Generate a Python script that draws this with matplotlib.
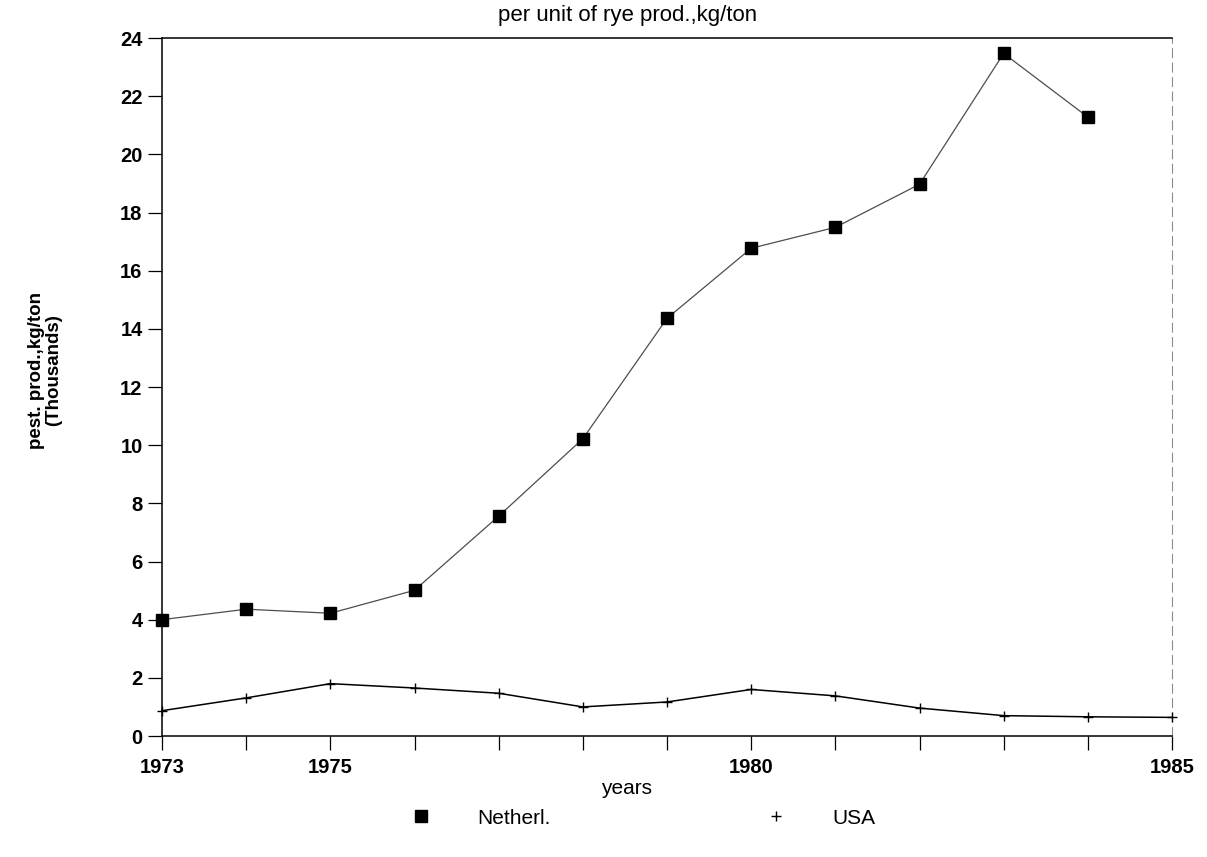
import matplotlib
matplotlib.use("Agg")
import matplotlib.pyplot as plt
from matplotlib.lines import Line2D

plt.rcParams["font.family"] = ["Liberation Sans", "DejaVu Sans"]

years = [1973, 1974, 1975, 1976, 1977, 1978, 1979, 1980, 1981, 1982, 1983, 1984, 1985]
netherl = [4.0, 4.36, 4.22, 5.01, 7.56, 10.22, 14.36, 16.77, 17.49, 18.97, 23.47, 21.28]
usa = [0.87, 1.31, 1.80, 1.65, 1.47, 1.00, 1.17, 1.60, 1.38, 0.96, 0.70, 0.66, 0.64]
xtick_labels = {1973: "1973", 1975: "1975", 1980: "1980", 1985: "1985"}
yticks = list(range(0, 25, 2))

fig = plt.figure(figsize=(12.07, 8.57), dpi=100)
ax = fig.add_axes([162 / 1207, 1 - 736 / 857, (1172 - 162) / 1207, (736 - 38) / 857])

ax.plot(years[:len(netherl)], netherl, color="0.3", lw=0.9, marker="s", ms=9,
        mfc="black", mec="black", clip_on=False, zorder=3)
ax.plot(years, usa, color="black", lw=1.1, marker="+", ms=7, mew=1.0,
        clip_on=False, zorder=3)

ax.set_xlim(1973, 1985)
ax.set_ylim(0, 24)
ax.set_xticks(years)
ax.set_xticklabels([xtick_labels.get(y, "") for y in years])
ax.set_yticks(yticks)
ax.tick_params(axis="both", direction="out", length=10, width=0.9, labelsize=14.5)
ax.tick_params(axis="x", pad=6)
ax.tick_params(axis="y", pad=4)
for lab in ax.get_xticklabels() + ax.get_yticklabels():
    lab.set_fontweight("bold")

for s in ["left", "bottom", "top"]:
    ax.spines[s].set_color("black")
    ax.spines[s].set_linewidth(1.1)
ax.spines["right"].set_color("0.55")
ax.spines["right"].set_linewidth(0.8)
ax.spines["right"].set_linestyle((0, (8, 5)))

fig.text(628 / 1207, 1 - 16 / 857, "per unit of rye prod.,kg/ton", ha="center",
         va="center", fontsize=16)
fig.text(627 / 1207, 1 - 788 / 857, "years", ha="center", va="center",
         fontsize=15)
fig.text(45 / 1207, 1 - 370 / 857, "pest. prod.,kg/ton\n(Thousands)", ha="center",
         va="center", rotation=90, fontsize=13.5, fontweight="bold",
         multialignment="center", linespacing=0.95)

handles = [
    Line2D([], [], ls="none", marker="s", ms=9, mfc="black", mec="black"),
    Line2D([], [], ls="none", marker="+", ms=7, mew=1.0, color="black"),
]
fig.legend(handles, ["Netherl.", "USA"], ncol=2, loc="center",
           bbox_to_anchor=(643 / 1207, 1 - 818 / 857), frameon=False,
           fontsize=15, handlelength=1.0, handletextpad=2.2, columnspacing=10.3)

fig.savefig("out.png", dpi=100)
